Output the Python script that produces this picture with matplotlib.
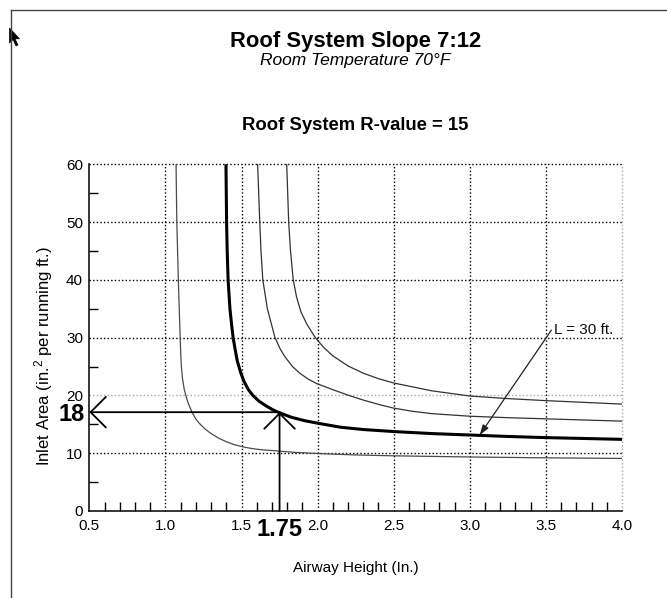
import matplotlib
matplotlib.use('Agg')
import matplotlib.pyplot as plt
from matplotlib.lines import Line2D
from matplotlib.patches import Polygon

plt.rcParams['font.family'] = ['Liberation Sans', 'DejaVu Sans']
plt.rcParams['mathtext.fontset'] = 'custom'
plt.rcParams['mathtext.rm'] = 'Liberation Sans'
plt.rcParams['mathtext.it'] = 'Liberation Sans:italic'

# ---------------- data ----------------
# Curve A (thin, leftmost)
curve_a_x = [1.070, 1.075, 1.085, 1.091, 1.097, 1.101, 1.105, 1.112, 1.124, 1.135,
             1.152, 1.175, 1.198, 1.222, 1.260, 1.300, 1.350, 1.400, 1.450, 1.510,
             1.570, 1.630, 1.730, 1.850, 2.000, 2.250, 2.500, 3.000, 3.500, 4.000]
curve_a_y = [60, 50, 40, 35, 30, 27, 25, 23, 21, 19.9,
             18.5, 17.1, 16.0, 15.2, 14.2, 13.4, 12.6, 12.0, 11.5, 11.1,
             10.8, 10.6, 10.4, 10.15, 9.95, 9.7, 9.55, 9.35, 9.2, 9.1]

# Curve B (thick, the highlighted one)
curve_b_x = [1.398, 1.402, 1.406, 1.412, 1.424, 1.436, 1.445, 1.458, 1.472, 1.494,
             1.515, 1.545, 1.575, 1.615, 1.655, 1.700, 1.740, 1.830, 1.920, 2.000,
             2.150, 2.300, 2.500, 2.750, 3.000, 3.250, 3.500, 3.750, 4.000]
curve_b_y = [60, 50, 45, 40, 35, 32, 30, 28, 26, 24,
             22.5, 21, 20, 19, 18.3, 17.6, 17.1, 16.2, 15.6, 15.2,
             14.5, 14.1, 13.75, 13.4, 13.15, 12.9, 12.7, 12.55, 12.4]

# Curve C (thin)
curve_c_x = [1.606, 1.620, 1.628, 1.640, 1.670, 1.695, 1.720, 1.755, 1.785, 1.835,
             1.885, 1.940, 1.990, 2.100, 2.200, 2.300, 2.400, 2.500, 2.625, 2.750,
             3.000, 3.250, 3.500, 3.750, 4.000]
curve_c_y = [60, 50, 45, 40, 35, 32.5, 30, 28, 26.7, 25,
             23.8, 22.8, 22.1, 21.0, 20.05, 19.2, 18.45, 17.8, 17.25, 16.85,
             16.4, 16.15, 15.95, 15.75, 15.55]

# Curve D (thin, rightmost)
curve_d_x = [1.797, 1.810, 1.822, 1.840, 1.862, 1.890, 1.930, 1.985, 2.040, 2.100,
             2.200, 2.300, 2.400, 2.500, 2.750, 3.000, 3.250, 3.500, 3.750, 4.000]
curve_d_y = [60, 50, 45, 40, 37, 34.5, 32.3, 30, 28.3, 26.85,
             25.1, 23.85, 22.9, 22.15, 20.8, 19.9, 19.45, 19.1, 18.8, 18.5]

x_ticks = [0.5, 1.0, 1.5, 2.0, 2.5, 3.0, 3.5, 4.0]
x_tick_labels = ['0.5', '1.0', '1.5', '2.0', '2.5', '3.0', '3.5', '4.0']
y_ticks = [0, 10, 20, 30, 40, 50, 60]
y_tick_labels = ['0', '10', '20', '30', '40', '50', '60']

reading_x = 1.75
reading_y = 17.1
reading_x_label = '1.75'
reading_y_label = '18'

callout_label = 'L = 30 ft.'
callout_tip = (3.065, 13.15)
callout_start = (3.536, 31.3)

title = 'Roof System Slope 7:12'
subtitle = 'Room Temperature 70°F'
subtitle2 = 'Roof System R-value = 15'
x_label = 'Airway Height (In.)'
y_label = r'Inlet Area (in.$^{2}$ per running ft.)'

# ---------------- figure ----------------
W, H = 667, 598
fig = plt.figure(figsize=(W / 100, H / 100), dpi=100)
fig.patch.set_facecolor('white')

def fx(px):
    return px / W

def fy(py):
    return 1 - py / H

ax = fig.add_axes([fx(89.3), fy(511), (622 - 89.3) / W, (511 - 164.3) / H])
ax.set_xlim(0.5, 4.0)
ax.set_ylim(0, 60)

# grid (dotted), lighter at y=20 and x=4.0
for xv in x_ticks[1:]:
    col = '#a8a8a8' if xv == 4.0 else 'black'
    ax.axvline(xv, color=col, ls=(0, (1, 1.6)), lw=1.0, zorder=1, clip_on=False)
for yv in y_ticks[1:]:
    col = '#a8a8a8' if yv == 20 else 'black'
    ax.axhline(yv, color=col, ls=(0, (1, 1.6)), lw=1.0, zorder=1, clip_on=False)

# curves
ax.plot(curve_a_x, curve_a_y, color='#4a4a4a', lw=0.9, zorder=3)
ax.plot(curve_c_x, curve_c_y, color='#333333', lw=0.9, zorder=3)
ax.plot(curve_d_x, curve_d_y, color='#333333', lw=0.9, zorder=3)
ax.plot(curve_b_x, curve_b_y, color='black', lw=2.2, zorder=4,
        solid_joinstyle='round', solid_capstyle='butt')

# spines
for s in ['top', 'right']:
    ax.spines[s].set_visible(False)
for s in ['left', 'bottom']:
    ax.spines[s].set_linewidth(1.1)
    ax.spines[s].set_zorder(5)

# ticks
ax.set_xticks(x_ticks)
ax.set_xticklabels(x_tick_labels)
ax.set_yticks(y_ticks)
ax.set_yticklabels(y_tick_labels)
x_minor = [round(0.5 + 0.1 * i, 2) for i in range(1, 35) if i % 5 != 0]
y_minor = [5 + 10 * i for i in range(6)]
ax.set_xticks(x_minor, minor=True)
ax.set_yticks(y_minor, minor=True)
ax.tick_params(which='major', length=0, labelsize=11, colors='black')
ax.tick_params(axis='x', which='major', pad=6)
ax.tick_params(axis='y', which='major', pad=4.5)
ax.tick_params(which='minor', direction='in', length=6.8, width=1.0, color='black')

# reading lines with open arrowheads
arrow_style = '->,head_length=1.1,head_width=1.1'
ax.annotate('', xy=(reading_x, reading_y), xytext=(reading_x, 0),
            arrowprops=dict(arrowstyle=arrow_style, lw=1.3, color='black',
                            shrinkA=0, shrinkB=0, mutation_scale=10),
            zorder=6, annotation_clip=False)
ax.annotate('', xy=(0.5, reading_y), xytext=(reading_x, reading_y),
            arrowprops=dict(arrowstyle=arrow_style, lw=1.3, color='black',
                            shrinkA=0, shrinkB=0, mutation_scale=10),
            zorder=6, annotation_clip=False)
ax.annotate(reading_y_label, xy=(0.5, reading_y), xytext=(-3.5, -1.5),
            textcoords='offset points', ha='right', va='center',
            fontsize=17, fontweight='bold', annotation_clip=False)
ax.annotate(reading_x_label, xy=(reading_x, 0), xytext=(0, -13),
            textcoords='offset points', ha='center', va='center',
            fontsize=17, fontweight='bold', annotation_clip=False)

# callout
ax.annotate('', xy=callout_tip, xytext=callout_start,
            arrowprops=dict(arrowstyle='-|>,head_length=0.6,head_width=0.2', lw=0.9,
                            color='#222222', shrinkA=0, shrinkB=0, mutation_scale=10),
            zorder=6)
ax.text(callout_start[0] + 0.02, callout_start[1], callout_label, ha='left',
        va='center', fontsize=11, color='#111111', zorder=7)

# axis labels
fig.text(fx(355.5), fy(568), x_label, ha='center', va='center', fontsize=11)
fig.text(fx(43.5), fy(356), y_label, ha='center', va='center', fontsize=12,
         rotation=90)

# titles
fig.text(fx(356), fy(46.7), title, ha='center', va='baseline', fontsize=15.8,
         fontweight='bold')
fig.text(fx(355), fy(65.5), subtitle, ha='center', va='baseline', fontsize=12.5,
         style='italic')
fig.text(fx(355.5), fy(130), subtitle2, ha='center', va='baseline', fontsize=13.3,
         fontweight='bold')

# page border
fig.add_artist(Line2D([fx(10.5), fx(10.5)], [fy(10), fy(598)], color='#444444', lw=1.0))
fig.add_artist(Line2D([fx(10.5), fx(667)], [fy(10), fy(10)], color='#444444', lw=1.0))

# mouse cursor
cur = [(0, 0), (0, 15), (3.5, 11.5), (6.5, 18), (8.5, 17), (5.5, 10.8), (10, 10.8)]
fig.add_artist(Polygon([(fx(9.5 + cx), fy(28 + cy)) for cx, cy in cur], closed=True,
                       facecolor='black', edgecolor='black', lw=0.5))

fig.savefig('out.png', dpi=100, facecolor='white')
